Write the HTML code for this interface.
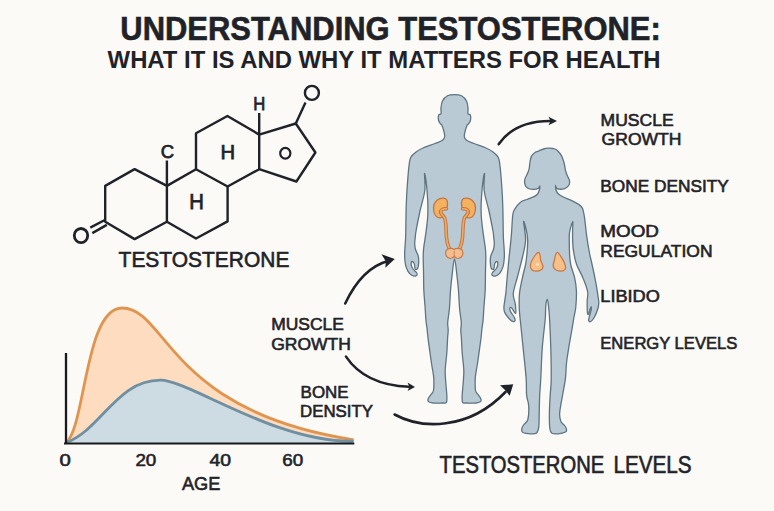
<!DOCTYPE html>
<html><head><meta charset="utf-8">
<style>
html,body{margin:0;padding:0;background:#FCFAF6;}
body{width:774px;height:511px;overflow:hidden;}
svg{display:block;}
text{font-family:"Liberation Sans",sans-serif;font-weight:bold;fill:#1F2329;}
text.m{font-weight:normal;stroke:#1F2329;stroke-width:0.6px;}
</style></head><body>
<svg width="774" height="511" viewBox="0 0 774 511">
<rect width="774" height="511" fill="#FCFAF6"/>
<!-- Title -->
<text x="120.3" y="39.8" font-size="33.5" stroke="#1F2329" stroke-width="0.6" textLength="540.5" lengthAdjust="spacingAndGlyphs">UNDERSTANDING TESTOSTERONE:</text>
<text x="107.6" y="68.4" font-size="23.8" textLength="553" lengthAdjust="spacingAndGlyphs">WHAT IT IS AND WHY IT MATTERS FOR HEALTH</text>

<!-- Molecule -->
<g fill="none" stroke="#1F2329" stroke-width="2.4" stroke-linejoin="round" stroke-linecap="butt">
<polygon points="134.6,169.1 166.9,185.9 166.9,221.8 134.6,239.1 105.2,221.8 105.2,185.9"/>
<polyline points="166.9,185.9 196,169.2 227.6,186.5 227.6,221.4 196,238.5 166.9,221.8"/>
<polyline points="196,169.2 196,133.2 227.4,116 259.2,134.6 259.2,169.2 227.6,186.5"/>
<polyline points="259.2,134.6 295.8,123.5 315.4,152.5 296.4,181.5 259.2,169.2"/>
<line x1="295.8" y1="123.5" x2="305.5" y2="102.5"/>
<circle cx="311.9" cy="92.9" r="7"/>
<line x1="259.2" y1="134.6" x2="259.2" y2="113"/>
<line x1="166.9" y1="185.9" x2="166.9" y2="160.5"/>
<line x1="90.3" y1="227.6" x2="104.8" y2="220"/>
<line x1="92.3" y1="233.1" x2="106.8" y2="224.9"/>
<ellipse cx="81" cy="235.6" rx="6.7" ry="7.1" stroke-width="2.8"/>
</g>
<g font-weight="normal" stroke="#1F2329" stroke-width="0.75">
<text x="167.5" y="158" font-size="18.5" style="font-weight:normal" text-anchor="middle">C</text>
<text x="259.3" y="110.1" font-size="18.5" style="font-weight:normal" text-anchor="middle" textLength="12" lengthAdjust="spacingAndGlyphs">H</text>
<text x="227.7" y="158.5" font-size="20.5" style="font-weight:normal" text-anchor="middle" textLength="14.6" lengthAdjust="spacingAndGlyphs">H</text>
<text x="196.6" y="209.2" font-size="21.5" style="font-weight:normal" text-anchor="middle" textLength="14.6" lengthAdjust="spacingAndGlyphs">H</text>
</g>
<ellipse cx="285.3" cy="153.2" rx="5.1" ry="5.4" fill="none" stroke="#1F2329" stroke-width="2.2"/>
<text x="118.6" y="267" font-size="22" class="m" textLength="170.8" lengthAdjust="spacingAndGlyphs">TESTOSTERONE</text>

<!-- Chart -->
<path d="M66.5,442.5 C85.4,425.4 85.3,308.0 122.0,308.0 C167.2,308.0 167.4,411.2 353.7,439.8 L354,443 L66.5,443 Z" fill="#FDDCBF"/>
<path d="M66.5,442.5 C101.7,429.1 116.7,380.2 160.4,380.2 C189.6,380.2 274.7,442.8 353.7,441.2 L354,443 L66.5,443 Z" fill="#CDDCE3"/>
<path d="M66.5,442.5 C85.4,425.4 85.3,308.0 122.0,308.0 C167.2,308.0 167.4,411.2 353.7,439.8" fill="none" stroke="#DF9550" stroke-width="2.8"/>
<path d="M66.5,442.5 C101.7,429.1 116.7,380.2 160.4,380.2 C189.6,380.2 274.7,442.8 353.7,441.2" fill="none" stroke="#6F8FA3" stroke-width="2.8"/>
<line x1="66" y1="353" x2="66" y2="444" stroke="#17191D" stroke-width="2.3"/>
<line x1="64" y1="443.5" x2="354.3" y2="443.5" stroke="#17191D" stroke-width="2.2"/>
<text x="59.6" y="465.6" font-size="16" class="m" style="stroke-width:0.55px" textLength="11.3" lengthAdjust="spacingAndGlyphs">0</text>
<text x="135.4" y="465.6" font-size="16" class="m" style="stroke-width:0.55px" textLength="20.9" lengthAdjust="spacingAndGlyphs">20</text>
<text x="209.6" y="465.6" font-size="16" class="m" style="stroke-width:0.55px" textLength="21.5" lengthAdjust="spacingAndGlyphs">40</text>
<text x="282.2" y="465.6" font-size="16" class="m" style="stroke-width:0.55px" textLength="20.9" lengthAdjust="spacingAndGlyphs">60</text>
<text x="181.9" y="490" font-size="19" class="m" textLength="38.4" lengthAdjust="spacingAndGlyphs">AGE</text>

<!-- Left labels -->
<text x="271.2" y="330.1" font-size="16.6" class="m" textLength="72.6" lengthAdjust="spacingAndGlyphs">MUSCLE</text>
<text x="271.2" y="349.7" font-size="16.6" class="m" textLength="79.6" lengthAdjust="spacingAndGlyphs">GROWTH</text>
<text x="300.6" y="397.8" font-size="16.6" class="m" textLength="48" lengthAdjust="spacingAndGlyphs">BONE</text>
<text x="300" y="417.3" font-size="16.6" class="m" textLength="73" lengthAdjust="spacingAndGlyphs">DENSITY</text>

<!-- Arrows -->
<g fill="none" stroke="#1F2329" stroke-width="2.6" stroke-linecap="round">
<path d="M498.8,144.1 Q515,121 550,121"/>
<path d="M345.2,303.5 Q362,268 388,261"/>
<path d="M346,356.6 Q365,385 409,386.8"/>
<path d="M394.6,414.5 C421,429 468,431 505.5,392"/>
</g>
<g fill="#1F2329">
<polygon points="557,121 548.5,116.8 550.5,121 548.5,125.2"/>
<polygon points="394.8,259 381.5,254.2 385.9,261.5 385.3,267.7"/>
<polygon points="415,386.9 407.5,382.6 409.5,386.9 407.5,391"/>
<polygon points="513.2,384.3 500.1,385.3 505.5,390.5 509.7,395.8"/>
</g>

<!-- Man -->
<path d="M454.5,94.6 C456.8,94.6 459.5,94.7 461.5,95.8 C463.5,96.9 465.4,99.0 466.5,101.0 C467.6,103.0 467.8,105.9 468.0,108.0 C468.2,110.1 467.6,112.6 468.0,113.8 C468.4,115.0 469.9,113.9 470.3,115.0 C470.7,116.1 470.7,119.0 470.4,120.5 C470.1,122.0 469.1,123.0 468.6,123.8 C468.1,124.5 467.8,123.8 467.2,125.0 C466.6,126.2 465.7,129.1 465.2,131.0 C464.7,132.9 464.1,135.0 464.3,136.5 C464.5,138.0 464.9,139.0 466.5,140.2 C468.1,141.4 470.8,142.2 474.0,143.5 C477.2,144.8 482.8,146.6 486.0,148.0 C489.2,149.4 490.9,150.4 493.0,152.0 C495.1,153.6 497.1,155.2 498.3,157.5 C499.5,159.8 499.5,162.2 500.0,166.0 C500.5,169.8 500.9,174.8 501.3,180.0 C501.7,185.2 502.1,191.2 502.4,197.0 C502.7,202.8 502.9,209.5 503.0,215.0 C503.1,220.5 503.1,225.8 503.2,230.0 C503.3,234.2 503.3,236.7 503.5,240.0 C503.7,243.3 504.1,247.1 504.2,250.0 C504.3,252.9 504.5,254.9 504.3,257.6 C504.1,260.3 503.9,263.8 503.1,266.4 C502.3,269.0 500.9,271.8 499.6,273.4 C498.3,275.0 496.4,275.8 495.2,276.1 C493.9,276.4 492.6,275.8 492.1,275.2 C491.7,274.6 491.9,273.5 492.5,272.5 C493.1,271.5 495.1,270.3 496.0,269.0 C496.9,267.7 497.7,265.9 497.8,264.6 C497.9,263.4 497.4,261.6 496.9,261.5 C496.4,261.4 495.2,262.4 494.7,263.7 C494.2,264.9 494.4,268.3 493.8,269.0 C493.2,269.7 491.8,269.3 491.2,268.1 C490.6,266.9 490.4,264.1 490.3,262.0 C490.2,259.9 490.3,257.9 490.8,255.8 C491.3,253.8 492.8,251.6 493.4,249.7 C494.0,247.8 494.2,246.3 494.3,244.4 C494.4,242.5 494.1,240.4 493.8,238.0 C493.6,235.6 493.6,234.5 492.8,230.0 C492.0,225.5 490.4,217.6 489.0,211.0 C487.6,204.4 484.9,196.8 484.2,190.5 C483.4,184.2 484.8,174.6 484.5,173.5 C484.2,172.4 483.1,180.1 482.6,184.0 C482.1,187.9 481.8,193.2 481.5,197.0 C481.2,200.8 481.1,203.7 481.1,207.0 C481.1,210.3 481.0,212.4 481.3,216.8 C481.6,221.2 482.5,228.4 483.2,233.7 C483.9,239.0 485.0,244.6 485.4,248.7 C485.8,252.8 485.8,254.4 485.8,258.0 C485.8,261.6 485.6,264.7 485.5,270.0 C485.4,275.3 485.4,283.9 485.2,289.9 C484.9,295.9 484.4,301.0 484.0,306.0 C483.6,311.0 483.4,316.3 483.1,320.0 C482.8,323.7 482.4,324.8 482.0,328.1 C481.6,331.4 481.6,333.7 480.8,339.7 C480.0,345.7 478.2,358.8 477.4,364.0 C476.6,369.2 476.6,368.5 476.2,371.0 C475.8,373.5 475.3,375.8 475.2,379.0 C475.1,382.2 475.0,387.9 475.5,390.5 C476.0,393.1 477.4,393.5 478.3,394.8 C479.2,396.1 480.3,397.4 480.7,398.5 C481.1,399.6 481.4,400.9 480.6,401.6 C479.8,402.4 477.5,402.7 476.0,403.0 C474.5,403.3 473.2,403.2 471.5,403.2 C469.8,403.2 467.5,403.1 466.0,403.0 C464.5,402.9 463.2,403.5 462.6,402.4 C462.0,401.3 462.0,399.9 462.1,396.6 C462.2,393.3 462.9,387.1 463.2,382.7 C463.5,378.3 464.0,374.9 463.8,370.0 C463.6,365.1 462.6,358.3 462.2,353.0 C461.8,347.7 461.6,341.8 461.4,338.0 C461.2,334.2 460.8,332.6 460.8,330.0 C460.8,327.4 461.5,326.0 461.3,322.5 C461.1,319.0 460.1,314.4 459.6,308.8 C459.1,303.2 458.9,295.7 458.4,289.2 C457.8,282.7 456.9,274.7 456.3,269.6 C455.7,264.5 455.1,258.8 454.5,258.8 C453.9,258.8 453.3,264.5 452.7,269.6 C452.1,274.7 451.2,282.7 450.6,289.2 C450.1,295.7 449.9,303.2 449.4,308.8 C448.9,314.4 447.9,319.0 447.7,322.5 C447.5,326.0 448.2,327.4 448.2,330.0 C448.2,332.6 447.8,334.2 447.6,338.0 C447.4,341.8 447.2,347.7 446.8,353.0 C446.4,358.3 445.4,365.1 445.2,370.0 C445.0,374.9 445.5,378.3 445.8,382.7 C446.1,387.1 446.8,393.3 446.9,396.6 C447.0,399.9 447.0,401.3 446.4,402.4 C445.8,403.5 444.5,402.9 443.0,403.0 C441.5,403.1 439.2,403.2 437.5,403.2 C435.8,403.2 434.5,403.3 433.0,403.0 C431.5,402.7 429.2,402.4 428.4,401.6 C427.6,400.9 427.9,399.6 428.3,398.5 C428.7,397.4 429.8,396.1 430.7,394.8 C431.6,393.5 433.0,393.1 433.5,390.5 C434.0,387.9 433.9,382.2 433.8,379.0 C433.7,375.8 433.2,373.5 432.8,371.0 C432.4,368.5 432.4,369.2 431.6,364.0 C430.8,358.8 429.0,345.7 428.2,339.7 C427.4,333.7 427.4,331.4 427.0,328.1 C426.6,324.8 426.2,323.7 425.9,320.0 C425.6,316.3 425.4,311.0 425.0,306.0 C424.6,301.0 424.1,295.9 423.8,289.9 C423.6,283.9 423.6,275.3 423.5,270.0 C423.4,264.7 423.2,261.6 423.2,258.0 C423.2,254.4 423.2,252.8 423.6,248.7 C424.0,244.6 425.1,239.0 425.8,233.7 C426.5,228.4 427.4,221.2 427.7,216.8 C428.0,212.4 427.9,210.3 427.9,207.0 C427.9,203.7 427.8,200.8 427.5,197.0 C427.2,193.2 426.9,187.9 426.4,184.0 C425.9,180.1 424.8,172.4 424.5,173.5 C424.2,174.6 425.6,184.2 424.8,190.5 C424.1,196.8 421.4,204.4 420.0,211.0 C418.6,217.6 417.0,225.5 416.2,230.0 C415.4,234.5 415.4,235.6 415.2,238.0 C414.9,240.4 414.6,242.5 414.7,244.4 C414.8,246.3 415.0,247.8 415.6,249.7 C416.2,251.6 417.7,253.8 418.2,255.8 C418.7,257.9 418.8,259.9 418.7,262.0 C418.6,264.1 418.4,266.9 417.8,268.1 C417.2,269.3 415.8,269.7 415.2,269.0 C414.6,268.3 414.8,264.9 414.3,263.7 C413.8,262.4 412.6,261.4 412.1,261.5 C411.6,261.6 411.1,263.4 411.2,264.6 C411.3,265.9 412.1,267.7 413.0,269.0 C413.9,270.3 415.9,271.5 416.5,272.5 C417.1,273.5 417.3,274.6 416.9,275.2 C416.4,275.8 415.1,276.4 413.8,276.1 C412.6,275.8 410.7,275.0 409.4,273.4 C408.1,271.8 406.7,269.0 405.9,266.4 C405.1,263.8 404.9,260.3 404.7,257.6 C404.5,254.9 404.7,252.9 404.8,250.0 C404.9,247.1 405.3,243.3 405.5,240.0 C405.7,236.7 405.7,234.2 405.8,230.0 C405.9,225.8 405.9,220.5 406.0,215.0 C406.1,209.5 406.3,202.8 406.6,197.0 C406.9,191.2 407.3,185.2 407.7,180.0 C408.1,174.8 408.5,169.8 409.0,166.0 C409.5,162.2 409.5,159.8 410.7,157.5 C411.9,155.2 413.9,153.6 416.0,152.0 C418.1,150.4 419.8,149.4 423.0,148.0 C426.2,146.6 431.8,144.8 435.0,143.5 C438.2,142.2 440.9,141.4 442.5,140.2 C444.1,139.0 444.5,138.0 444.7,136.5 C444.9,135.0 444.3,132.9 443.8,131.0 C443.3,129.1 442.4,126.2 441.8,125.0 C441.2,123.8 440.9,124.5 440.4,123.8 C439.9,123.0 438.9,122.0 438.6,120.5 C438.3,119.0 438.3,116.1 438.7,115.0 C439.1,113.9 440.6,115.0 441.0,113.8 C441.4,112.6 440.8,110.1 441.0,108.0 C441.2,105.9 441.4,103.0 442.5,101.0 C443.6,99.0 445.5,96.9 447.5,95.8 C449.5,94.7 452.2,94.6 454.5,94.6Z" fill="#BACAD4" stroke="#5E7482" stroke-width="1.3" stroke-linejoin="round"/>
<!-- Woman -->
<path d="M548.0,148.2 C549.6,148.1 551.6,148.3 553.0,148.5 C554.4,148.7 554.9,148.7 556.1,149.5 C557.3,150.3 558.9,152.1 560.0,153.5 C561.1,154.9 561.8,156.2 562.5,158.0 C563.2,159.8 563.8,161.9 564.3,164.0 C564.8,166.1 565.1,168.8 565.6,170.8 C566.1,172.8 566.8,174.3 567.5,176.0 C568.2,177.7 569.4,179.5 569.6,181.1 C569.8,182.7 569.5,184.2 568.6,185.5 C567.8,186.8 566.1,188.0 564.5,188.6 C562.9,189.2 560.4,189.3 559.0,189.2 C557.6,189.1 556.8,188.4 556.2,187.8 C555.6,187.2 555.5,185.2 555.5,185.5 C555.5,185.8 555.6,188.2 555.9,189.5 C556.2,190.8 556.6,191.9 557.5,193.0 C558.4,194.1 559.4,194.9 561.0,195.8 C562.6,196.7 564.9,197.6 567.0,198.6 C569.1,199.6 571.7,200.6 573.7,201.6 C575.7,202.6 577.5,203.5 579.0,204.6 C580.5,205.7 581.6,206.5 582.5,208.4 C583.4,210.3 583.8,213.4 584.3,216.2 C584.8,219.0 585.0,221.9 585.4,225.0 C585.8,228.1 585.9,230.2 586.5,234.7 C587.1,239.2 588.3,246.8 589.3,252.0 C590.3,257.2 591.3,261.1 592.4,266.0 C593.5,270.9 594.6,276.5 595.6,281.6 C596.6,286.7 597.6,293.2 598.1,296.8 C598.6,300.4 598.9,301.1 598.8,303.2 C598.7,305.3 598.4,307.2 597.6,309.5 C596.9,311.8 595.4,315.2 594.3,317.2 C593.2,319.2 591.8,320.9 590.8,321.5 C589.8,322.1 588.9,321.4 588.6,320.6 C588.4,319.8 588.9,318.6 589.3,316.8 C589.7,315.0 590.9,311.7 591.2,310.0 C591.5,308.3 591.4,306.6 591.1,306.6 C590.9,306.6 590.2,308.9 589.7,310.2 C589.2,311.5 588.7,314.3 588.3,314.5 C587.9,314.7 587.5,313.8 587.3,311.5 C587.1,309.2 587.2,304.0 587.2,300.7 C587.2,297.4 588.3,295.3 587.6,291.5 C586.9,287.7 584.8,282.4 583.0,278.0 C581.2,273.6 578.3,269.0 576.8,265.0 C575.3,261.0 574.7,257.7 574.0,254.0 C573.3,250.3 572.9,246.6 572.7,242.6 C572.5,238.6 572.6,233.5 572.6,230.0 C572.6,226.5 573.2,221.4 572.7,221.7 C572.2,222.0 570.2,228.5 569.6,232.0 C569.0,235.5 569.3,238.8 569.3,242.6 C569.3,246.4 569.4,251.3 569.6,255.0 C569.9,258.7 570.0,261.2 570.8,265.0 C571.6,268.8 573.7,273.4 574.6,277.7 C575.5,281.9 576.2,285.6 576.4,290.5 C576.6,295.4 576.2,302.4 575.8,307.0 C575.4,311.6 574.5,313.8 573.8,318.0 C573.1,322.2 572.4,326.9 571.5,332.0 C570.6,337.1 569.4,343.4 568.6,348.6 C567.8,353.8 567.0,358.1 566.5,363.0 C566.0,367.9 566.1,372.6 565.5,377.9 C564.9,383.2 563.6,389.2 562.6,395.0 C561.6,400.8 560.0,408.2 559.7,412.6 C559.4,417.0 560.0,419.2 560.9,421.4 C561.8,423.6 564.1,424.7 565.0,426.0 C565.9,427.3 566.4,428.4 566.5,429.4 C566.6,430.4 566.9,431.3 565.5,432.0 C564.1,432.7 560.5,433.6 558.2,433.8 C556.0,434.0 553.4,434.2 552.0,433.3 C550.6,432.4 550.2,431.9 549.8,428.5 C549.4,425.1 549.3,418.2 549.4,412.6 C549.5,407.0 549.9,400.4 550.2,395.0 C550.5,389.6 551.1,387.7 551.2,380.0 C551.3,372.3 551.1,358.7 550.8,348.6 C550.5,338.5 550.0,326.4 549.6,319.3 C549.2,312.2 548.9,309.3 548.5,306.0 C548.1,302.7 547.8,299.4 547.3,299.4 C546.8,299.4 546.1,302.7 545.8,306.0 C545.4,309.3 545.8,312.2 545.2,319.3 C544.6,326.4 542.9,338.8 542.2,348.6 C541.5,358.4 541.2,370.2 540.8,377.9 C540.4,385.6 540.0,389.2 539.7,395.0 C539.4,400.8 539.4,407.3 539.2,412.6 C539.1,417.9 539.2,423.3 538.8,426.7 C538.4,430.1 537.9,431.7 536.6,432.9 C535.3,434.1 533.2,433.9 530.9,433.8 C528.6,433.7 524.5,433.3 523.0,432.5 C521.5,431.7 521.6,430.2 521.7,429.0 C521.8,427.8 522.5,426.6 523.5,425.0 C524.5,423.4 526.9,422.9 527.8,419.7 C528.7,416.5 528.9,409.7 528.7,405.6 C528.5,401.5 527.0,399.6 526.6,395.0 C526.2,390.4 526.7,385.6 526.1,377.9 C525.5,370.2 524.1,357.4 523.2,348.6 C522.3,339.8 521.4,331.6 520.8,325.0 C520.1,318.4 519.5,313.9 519.3,308.7 C519.1,303.4 519.0,298.8 519.5,293.5 C520.0,288.2 521.6,281.8 522.6,277.0 C523.6,272.2 524.8,268.4 525.5,265.0 C526.2,261.6 526.3,260.6 526.7,256.5 C527.1,252.3 527.8,244.5 527.7,240.1 C527.6,235.7 527.0,233.1 526.3,230.0 C525.6,226.9 523.7,220.0 523.6,221.7 C523.5,223.4 525.8,234.3 525.6,240.1 C525.4,245.9 524.0,250.3 522.6,256.5 C521.2,262.6 519.0,270.8 517.4,277.0 C515.8,283.2 513.6,289.0 513.3,293.5 C512.9,298.0 514.9,300.7 515.3,304.0 C515.7,307.3 516.2,312.6 515.6,313.2 C515.0,313.8 512.5,308.5 511.5,307.7 C510.5,306.9 510.0,307.8 509.8,308.4 C509.6,309.0 509.7,310.0 510.5,311.5 C511.3,313.0 513.6,316.0 514.4,317.5 C515.1,319.0 515.2,319.9 515.0,320.6 C514.8,321.3 514.1,321.8 513.2,321.6 C512.3,321.4 511.0,320.6 509.7,319.2 C508.4,317.8 506.2,315.3 505.2,313.4 C504.2,311.4 503.8,310.8 503.9,307.5 C504.0,304.2 505.2,298.5 505.8,293.4 C506.4,288.3 506.6,283.1 507.2,277.0 C507.8,270.9 508.5,263.3 509.2,256.5 C509.9,249.7 510.7,242.8 511.3,236.0 C511.9,229.2 512.2,219.9 512.7,215.5 C513.2,211.1 513.3,211.6 514.6,209.4 C515.9,207.2 518.4,203.8 520.5,202.2 C522.6,200.5 524.8,200.4 527.0,199.5 C529.2,198.6 532.2,197.5 534.0,196.6 C535.8,195.7 536.6,195.2 537.5,194.2 C538.4,193.2 538.8,191.9 539.2,190.5 C539.6,189.1 539.9,186.3 539.8,186.0 C539.6,185.7 539.5,187.8 538.3,188.4 C537.1,189.0 534.4,189.5 532.6,189.4 C530.8,189.3 528.8,188.8 527.5,188.0 C526.2,187.2 525.5,185.9 525.0,184.5 C524.5,183.1 524.5,181.3 524.8,179.6 C525.1,177.9 526.3,176.2 527.0,174.5 C527.7,172.8 528.5,171.4 529.0,169.3 C529.5,167.2 529.6,164.2 530.0,162.0 C530.4,159.8 530.7,157.7 531.5,156.1 C532.3,154.5 533.7,153.4 535.0,152.5 C536.3,151.6 537.8,151.4 539.2,150.8 C540.6,150.2 542.0,149.4 543.5,149.0 C545.0,148.6 546.4,148.3 548.0,148.2Z" fill="#BACAD4" stroke="#5E7482" stroke-width="1.3" stroke-linejoin="round"/>


<!-- Man organs -->
<g stroke="#C27545" stroke-width="1.3" stroke-linejoin="round" fill="#F4B160">
<path d="M443.5,198.2 C445.5,198.4 447.3,199.8 447.5,202.5 C447.7,205 447.2,207.5 445.8,208.8 C443,208.6 439.6,209.6 439.5,211.9 C439.4,214.2 441.6,215.3 443.5,216.2 C442.6,217.6 441,218.1 439.5,217.9 C436.5,217.6 434.5,214.6 433.8,211 C433,207 434.5,202.5 437,200.3 C438.8,198.8 441.5,198.1 443.5,198.2 Z"/>
<path d="M465.5,198.2 C463.5,198.4 461.7,199.8 461.5,202.5 C461.3,205.0 461.8,207.5 463.2,208.8 C466.0,208.6 469.4,209.6 469.5,211.9 C469.6,214.2 467.4,215.3 465.5,216.2 C466.4,217.6 468.0,218.1 469.5,217.9 C472.5,217.6 474.5,214.6 475.2,211.0 C476.0,207.0 474.5,202.5 472.0,200.3 C470.2,198.8 467.5,198.1 465.5,198.2 Z"/>
</g>
<g fill="none" stroke-linecap="round" stroke-linejoin="round">
<path d="M446.5,208.7 C443,208.5 440.6,210 440.8,212.2 C441,214.3 443.6,215.6 444.6,218 C445.6,221 446.1,226 446.2,232 C446.3,239 447.4,245 449.6,249" stroke="#C27545" stroke-width="3.6"/>
<path d="M462.5,208.7 C466.0,208.5 468.4,210.0 468.2,212.2 C468.0,214.3 465.4,215.6 464.4,218.0 C463.4,221.0 462.9,226.0 462.8,232.0 C462.7,239.0 461.6,245.0 459.4,249.0" stroke="#C27545" stroke-width="3.6"/>
<path d="M446.5,208.7 C443,208.5 440.6,210 440.8,212.2 C441,214.3 443.6,215.6 444.6,218 C445.6,221 446.1,226 446.2,232 C446.3,239 447.4,245 449.6,249" stroke="#F2AD5E" stroke-width="1.6"/>
<path d="M462.5,208.7 C466.0,208.5 468.4,210.0 468.2,212.2 C468.0,214.3 465.4,215.6 464.4,218.0 C463.4,221.0 462.9,226.0 462.8,232.0 C462.7,239.0 461.6,245.0 459.4,249.0" stroke="#F2AD5E" stroke-width="1.6"/>
</g>
<path d="M454.2,249.4 C452.5,248 449,247.9 447,249.5 C445,251.5 445.3,255.5 447.5,257.3 C449.5,258.9 452.5,258.5 454.2,256.5 C456,258.5 459,258.9 461,257.3 C463.2,255.5 463.5,251.5 461.5,249.5 C459.5,247.9 456,248 454.2,249.4 Z" fill="#F4BD8F" stroke="#C57A47" stroke-width="1.2"/>
<path d="M454.2,250.8 L454.2,256" stroke="#C57A47" stroke-width="0.8"/>
<!-- Woman organs -->
<g fill="#F7C088" stroke="#C47846" stroke-width="1.25" stroke-linejoin="round">
<path d="M538.6,252.3 C540,252.8 540.4,256.5 540.6,259.6 C540.8,262 542.8,264 543,266.6 C543.2,269.5 539.5,271.4 535.7,271.2 C532.5,271 530.2,268.8 530.4,265.4 C530.6,262 532.5,259 535,255.5 C536.3,253.6 537.4,252 538.6,252.3 Z"/>
<path d="M557.2,252.3 C555.6,252.8 555,256.5 554.5,259.6 C554,262 552.8,264 553.3,266.5 C554,269.5 557.5,271.3 561.3,271.2 C564.5,271 566,269 565.5,266.5 C565,263.5 562.5,259 560.3,255.7 C559.2,253.8 558.2,252 557.2,252.3 Z"/>
</g>
<circle cx="537.5" cy="264.5" r="1.5" fill="#FBE0C2"/>

<!-- Right labels -->
<text x="600.6" y="125.5" font-size="16.6" class="m" textLength="73" lengthAdjust="spacingAndGlyphs">MUSCLE</text>
<text x="601.6" y="144.5" font-size="16.6" class="m" textLength="79.9" lengthAdjust="spacingAndGlyphs">GROWTH</text>
<text x="600.3" y="191.8" font-size="16.6" class="m" textLength="128.6" lengthAdjust="spacingAndGlyphs">BONE DENSITY</text>
<text x="600.3" y="237.0" font-size="16.6" class="m" textLength="58.6" lengthAdjust="spacingAndGlyphs">MOOD</text>
<text x="600.3" y="256.7" font-size="16.6" class="m" textLength="112.2" lengthAdjust="spacingAndGlyphs">REGULATION</text>
<text x="600.3" y="302.4" font-size="16.6" class="m" textLength="59.6" lengthAdjust="spacingAndGlyphs">LIBIDO</text>
<text x="600.3" y="348.5" font-size="16.6" class="m" textLength="137" lengthAdjust="spacingAndGlyphs">ENERGY LEVELS</text>

<text x="439.6" y="472.9" font-size="23" class="m" textLength="164.6" lengthAdjust="spacingAndGlyphs">TESTOSTERONE</text>
<text x="613.4" y="472.9" font-size="23" class="m" textLength="78.2" lengthAdjust="spacingAndGlyphs">LEVELS</text>
</svg>
</body></html>
